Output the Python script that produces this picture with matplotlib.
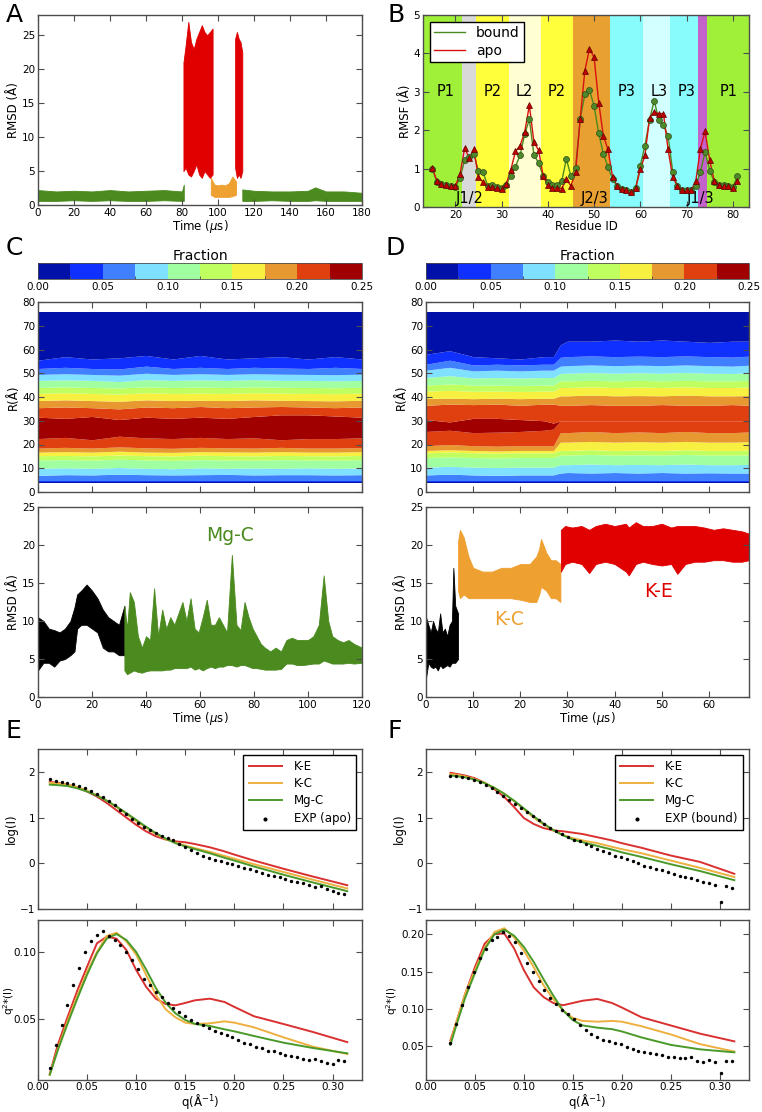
import numpy as np
import matplotlib
matplotlib.use("Agg")
import matplotlib.pyplot as plt
from matplotlib.colors import ListedColormap, BoundaryNorm
from matplotlib.cm import ScalarMappable

# ---------------- data ----------------
# panel A: RMSD envelopes (time in us, low / high in A)
a_green1_t = [0, 10, 20, 30, 40, 50, 60, 70, 80, 81]
a_green1_lo = [0.6, 0.6, 0.7, 0.6, 0.7, 0.6, 0.6, 0.7, 0.6, 0.6]
a_green1_hi = [2.2, 2.0, 2.1, 2.0, 2.2, 2.0, 2.1, 2.2, 2.0, 3.0]
a_red1_t = [80.8, 82, 83.5, 85, 86.5, 88, 89.5, 91, 92.5, 94, 95.5, 97]
a_red1_lo = [5.0, 5.5, 4.5, 4.2, 5.0, 6.0, 4.5, 4.0, 5.0, 4.5, 4.0, 4.5]
a_red1_hi = [21.0, 23.5, 27.0, 24.0, 23.0, 24.5, 25.5, 26.5, 25.5, 25.0, 25.5, 26.0]
a_orange_t = [96, 98, 100, 102, 104, 106, 108, 110]
a_orange_lo = [1.5, 1.2, 1.2, 1.2, 1.2, 1.2, 1.3, 1.5]
a_orange_hi = [4.0, 3.0, 2.9, 3.0, 2.9, 3.2, 4.2, 3.5]
a_red2_t = [109.5, 110.5, 111.5, 112.5, 113.5]
a_red2_lo = [5.5, 4.0, 4.5, 4.0, 5.0]
a_red2_hi = [24.5, 25.5, 24.5, 24.0, 22.5]
a_green2_t = [113.5, 120, 130, 140, 150, 154, 160, 170, 180]
a_green2_lo = [0.6, 0.6, 0.7, 0.6, 0.6, 0.7, 0.6, 0.6, 0.6]
a_green2_hi = [2.3, 2.1, 2.0, 2.0, 2.1, 2.6, 2.0, 2.0, 1.8]

# panel B: RMSF per residue
residues = list(range(15, 82))
rmsf_bound = [1.00, 0.65, 0.60, 0.57, 0.55, 0.52, 0.75, 1.22, 1.30, 1.38, 0.93, 0.90,
              0.55, 0.57, 0.53, 0.50, 0.58, 0.82, 1.05, 1.35, 1.90, 2.28, 1.35, 1.15,
              0.80, 0.65, 0.58, 0.58, 0.67, 1.25, 0.80, 1.02, 2.30, 2.93, 3.05, 2.63,
              1.92, 1.38, 1.05, 0.72, 0.55, 0.48, 0.43, 0.38, 0.50, 1.08, 1.60, 2.27,
              2.77, 2.27, 2.13, 1.85, 0.92, 0.55, 0.45, 0.45, 0.43, 0.55, 0.92, 1.43,
              0.95, 0.65, 0.57, 0.57, 0.55, 0.52, 0.80]
rmsf_apo = [1.02, 0.68, 0.60, 0.58, 0.55, 0.55, 0.85, 1.53, 1.28, 1.50, 0.77, 0.65,
            0.53, 0.52, 0.50, 0.48, 0.60, 0.97, 1.45, 1.60, 1.95, 2.65, 1.68, 1.48,
            0.80, 0.57, 0.50, 0.50, 0.48, 0.72, 0.55, 0.92, 2.30, 3.55, 4.12, 3.90,
            2.72, 1.85, 1.50, 0.78, 0.55, 0.48, 0.43, 0.38, 0.50, 0.98, 1.35, 2.33,
            2.47, 2.43, 2.43, 1.50, 0.78, 0.55, 0.45, 0.45, 0.43, 0.68, 1.52, 1.97,
            1.22, 0.67, 0.57, 0.55, 0.55, 0.50, 0.68]
region_edges = [13, 21.5, 24.5, 31.5, 38.5, 45.5, 53.5, 60.5, 66.5, 72.5, 74.5, 83.5]
region_colors = ['#a0f03a', '#d9d9d9', '#ffff3c', '#ffffd2', '#ffff3c', '#e8a030',
                 '#88fcfc', '#d2ffff', '#88fcfc', '#c462cc', '#a0f03a']
region_names = ['P1', 'P2', 'L2', 'P2', 'P3', 'L3', 'P3', 'P1']
region_name_x = [18, 28, 35, 42, 57, 64, 70, 79]
junction_names = ['J1/2', 'J2/3', 'J1/3']
junction_x = [23, 50, 73]

# colour levels of the R-distribution maps
frac_levels = [0.0, 0.025, 0.05, 0.075, 0.10, 0.125, 0.15, 0.175, 0.20, 0.225, 0.25]
frac_colors = ['#0010a8', '#1030ff', '#4080ff', '#80e0ff', '#a0ffa0',
               '#c0ff60', '#f8f040', '#e89830', '#e04010', '#a00000']
band_level = [0, 1, 2, 3, 4, 5, 6, 7, 8, 9, 8, 7, 6, 5, 4, 3, 2, 1, 0]

# panel C map: boundaries (R in A) of each colour band, bottom to top
c_map_t = [0, 10, 20, 30, 40, 50, 60, 70, 80, 90, 100, 110, 120]
c_edges = [
    [4.0] * 13,
    [4.3] * 13,
    [4.8] * 13,
    [7.0, 7.3, 7.2, 7.5, 7.3, 7.2, 7.3, 7.4, 7.2, 7.3, 7.3, 7.2, 7.3],
    [10.0, 10.2, 10.0, 10.3, 10.0, 9.8, 10.2, 10.0, 10.1, 10.0, 10.2, 10.0, 10.1],
    [13.5, 13.6, 13.4, 13.8, 13.5, 13.3, 13.6, 13.5, 13.4, 13.6, 13.5, 13.4, 13.6],
    [15.3, 15.4, 15.2, 15.6, 15.3, 15.2, 15.5, 15.3, 15.2, 15.4, 15.3, 15.2, 15.4],
    [16.8, 17.0, 16.8, 17.2, 16.8, 16.7, 17.0, 16.9, 16.8, 17.0, 16.8, 16.8, 17.0],
    [18.5, 18.8, 18.5, 19.0, 18.6, 18.4, 18.8, 18.6, 18.5, 18.8, 18.5, 18.5, 18.7],
    [22.5, 23.0, 22.0, 23.5, 22.8, 22.5, 23.0, 22.5, 22.8, 22.0, 22.5, 22.5, 22.8],
    [31.5, 31.0, 31.8, 30.5, 31.5, 31.0, 31.5, 31.0, 31.8, 32.5, 32.5, 32.0, 31.5],
    [35.5, 35.8, 35.5, 35.0, 35.8, 35.5, 36.0, 35.5, 35.8, 36.0, 35.8, 35.5, 35.8],
    [38.5, 38.8, 38.5, 38.2, 38.8, 38.5, 38.6, 38.5, 38.8, 38.6, 38.5, 38.4, 38.6],
    [41.5, 41.8, 41.5, 41.2, 41.8, 41.5, 41.6, 41.5, 41.8, 41.6, 41.5, 41.4, 41.6],
    [44.0, 44.3, 44.0, 43.8, 44.3, 44.0, 44.2, 44.0, 44.3, 44.1, 44.0, 43.9, 44.1],
    [47.0, 47.2, 47.0, 46.5, 47.3, 47.0, 47.2, 47.0, 47.3, 47.0, 47.0, 46.8, 47.0],
    [49.5, 49.8, 49.5, 49.2, 50.0, 49.5, 49.8, 49.5, 49.8, 49.6, 49.5, 49.4, 49.6],
    [52.0, 52.5, 52.0, 51.8, 53.0, 52.0, 52.5, 52.0, 52.5, 52.2, 52.0, 52.5, 52.0],
    [55.5, 57.0, 56.0, 56.5, 57.5, 56.0, 57.5, 56.0, 56.5, 57.0, 56.0, 57.0, 56.0],
    [76.0] * 13,
]

# panel D map
d_map_t = [0, 5, 10, 15, 20, 25, 27, 28.5, 30, 35, 40, 45, 50, 55, 60, 65, 68.5]
d_edges = [
    [4.0] * 17,
    [4.3] * 17,
    [4.8] * 17,
    [7.2, 7.5, 7.2, 7.0, 7.2, 7.2, 7.2, 8.0, 8.2, 8.0, 8.2, 8.0, 8.2, 8.0, 8.1, 8.0, 8.0],
    [10.5, 10.8, 10.5, 10.3, 10.5, 10.5, 10.5, 11.5, 11.5, 11.8, 11.5, 11.6, 11.5, 11.8, 11.5, 11.5, 11.6],
    [14.5, 14.8, 14.5, 14.3, 14.5, 14.5, 14.5, 15.5, 15.5, 15.8, 15.5, 15.6, 15.5, 15.8, 15.5, 15.5, 15.6],
    [16.5, 16.8, 16.5, 16.3, 16.5, 16.5, 16.5, 17.5, 17.5, 17.8, 17.5, 17.6, 17.5, 17.8, 17.5, 17.5, 17.6],
    [17.5, 17.8, 17.5, 17.3, 17.5, 17.5, 17.5, 21.0, 21.0, 21.3, 21.0, 21.2, 21.0, 21.3, 21.0, 21.0, 21.2],
    [19.5, 20.0, 19.5, 19.3, 19.5, 19.5, 19.5, 25.0, 25.0, 25.5, 25.0, 25.3, 25.0, 25.5, 25.0, 25.0, 25.3],
    [25.5, 26.0, 25.0, 25.2, 25.5, 26.0, 26.5, 30.0, 30.0, 30.0, 30.0, 30.0, 30.0, 30.0, 30.0, 30.0, 30.0],
    [30.5, 29.5, 31.0, 31.0, 30.5, 30.0, 29.0, 30.0, 30.0, 30.0, 30.0, 30.0, 30.0, 30.0, 30.0, 30.0, 30.0],
    [36.5, 37.0, 36.8, 37.0, 36.5, 37.0, 37.0, 36.5, 36.5, 36.8, 36.5, 36.5, 36.8, 36.5, 36.5, 36.8, 36.5],
    [39.4, 39.5, 39.3, 39.5, 39.3, 39.5, 39.5, 40.5, 40.5, 40.8, 40.5, 40.6, 40.5, 40.8, 40.5, 40.5, 40.6],
    [42.5, 42.8, 42.4, 42.5, 42.3, 42.5, 42.5, 44.0, 44.0, 44.3, 44.0, 44.2, 44.0, 44.3, 44.0, 44.0, 44.2],
    [45.0, 45.5, 45.0, 45.0, 44.8, 45.0, 45.0, 46.8, 46.8, 47.0, 46.8, 47.0, 46.8, 47.0, 46.8, 46.8, 47.0],
    [48.2, 49.0, 48.0, 48.2, 48.0, 48.2, 48.2, 49.9, 50.0, 50.3, 50.0, 50.2, 50.0, 50.3, 50.0, 49.9, 50.2],
    [51.3, 52.5, 51.0, 51.3, 51.0, 51.3, 51.3, 53.0, 53.2, 53.5, 53.2, 53.4, 53.2, 53.5, 53.2, 53.0, 53.4],
    [53.8, 55.5, 53.5, 53.8, 53.5, 53.8, 53.8, 56.7, 57.0, 57.3, 57.0, 57.2, 57.0, 57.3, 57.0, 56.8, 57.2],
    [58.0, 59.5, 57.0, 56.5, 56.0, 57.0, 57.0, 62.0, 63.5, 63.5, 64.0, 63.5, 64.0, 63.5, 63.0, 63.5, 63.5],
    [76.0] * 17,
]

# panel C RMSD envelopes
c_black_t = [0, 2, 4, 6, 8, 10, 12, 13.5, 14.5, 16, 18, 20, 22, 24, 26, 28, 30, 32]
c_black_lo = [3.5, 4.5, 4.5, 4.0, 4.8, 5.0, 5.5, 6.0, 9.0, 9.5, 9.5, 9.0, 8.5, 6.5, 6.0, 6.0, 5.5, 5.5]
c_black_hi = [10.5, 10.0, 9.0, 8.8, 8.5, 9.0, 10.0, 11.8, 13.5, 14.0, 14.8, 14.0, 13.0, 11.5, 10.5, 10.0, 9.5, 12.0]
c_green_t = [32, 33, 34, 35.5, 37, 38.5, 40, 41.5, 43, 44.5, 46, 47.5, 49, 50.5, 52, 53.5, 55, 56.5,
             58, 59.5, 61, 62.5, 64, 65.5, 67, 68.5, 70, 71.8, 73.5, 75, 76.5, 78, 79.5, 81, 82.5,
             84, 86, 88, 90, 92, 94, 96, 98, 100, 102, 104, 105.8, 107.5, 109, 111, 113, 115, 117, 120]
c_green_lo = [3.5, 3.0, 3.2, 3.5, 3.3, 3.2, 3.4, 3.5, 3.5, 3.5, 3.5, 3.6, 3.6, 3.8, 3.8, 3.8, 3.8, 4.0,
              3.6, 3.8, 3.5, 3.8, 4.0, 3.8, 4.0, 4.0, 4.2, 4.2, 4.0, 4.2, 4.2, 4.0, 3.8, 3.8, 3.7,
              3.6, 3.6, 3.6, 3.7, 4.4, 4.4, 4.2, 4.2, 4.3, 4.4, 4.4, 4.8, 4.6, 4.4, 4.4, 4.4, 4.5, 4.4, 4.5]
c_green_hi = [12.0, 9.0, 13.8, 12.5, 8.0, 6.5, 8.0, 7.5, 14.3, 8.0, 11.5, 9.0, 10.5, 9.5, 11.0, 12.5,
              10.0, 13.0, 9.0, 8.5, 10.5, 12.8, 9.5, 9.5, 10.5, 9.5, 8.5, 18.7, 9.5, 8.8, 12.5, 10.5,
              9.0, 8.0, 7.0, 6.5, 6.0, 6.5, 6.0, 7.5, 7.8, 7.5, 7.5, 7.5, 8.0, 9.5, 16.0, 10.0, 8.0,
              7.5, 7.2, 7.5, 7.0, 6.5]

# panel D RMSD envelopes
d_black_t = [0, 0.5, 1, 1.5, 2, 2.5, 3, 3.5, 4, 4.5, 5, 5.5, 5.8, 6.2, 6.8]
d_black_lo = [2.5, 4.5, 4.0, 3.8, 4.0, 3.5, 4.2, 3.8, 4.0, 4.2, 4.0, 4.5, 4.5, 4.5, 5.0]
d_black_hi = [10.5, 9.5, 8.5, 10.0, 9.0, 8.5, 11.0, 8.5, 9.0, 8.0, 9.5, 10.0, 17.0, 12.0, 11.0]
d_orange_t = [6.8, 7.2, 8, 9, 10, 12, 14, 16, 18, 20, 22, 23.4, 24, 24.4, 25.5, 26.5, 27.5, 28.5]
d_orange_lo = [14.0, 13.0, 13.5, 13.0, 13.0, 13.0, 13.0, 13.0, 13.0, 12.8, 12.5, 12.5, 13.5, 14.5,
               14.0, 13.0, 13.0, 12.5]
d_orange_hi = [20.5, 22.0, 21.0, 18.5, 17.0, 16.5, 16.5, 17.0, 17.0, 17.5, 17.5, 18.5, 19.5, 20.8,
               19.0, 18.0, 18.0, 17.5]
d_red_t = [28.6, 29.5, 31, 33, 34.6, 36, 38, 40, 42.4, 43, 44.5, 46, 48, 50, 52, 53.3, 55, 57, 59,
           61, 63, 65, 67, 68.5]
d_red_lo = [16.5, 17.5, 17.8, 17.5, 16.3, 17.5, 17.8, 17.5, 16.5, 16.0, 17.5, 17.8, 17.5, 17.3,
            17.5, 16.2, 17.5, 17.8, 17.8, 18.0, 18.0, 17.8, 17.8, 18.0]
d_red_hi = [22.0, 22.5, 22.3, 22.5, 22.0, 22.5, 22.8, 22.5, 22.8, 22.3, 23.0, 22.5, 22.5, 22.8,
            22.3, 22.5, 22.5, 22.5, 22.3, 22.0, 22.2, 22.0, 21.8, 21.5]

# panel E: SAXS, apo
e_q = [0.012, 0.02, 0.03, 0.04, 0.05, 0.06, 0.07, 0.08, 0.09, 0.10, 0.11, 0.12, 0.13, 0.14,
       0.15, 0.16, 0.175, 0.19, 0.20, 0.22, 0.25, 0.28, 0.315]
e_log_ke = [1.78, 1.76, 1.72, 1.66, 1.57, 1.46, 1.32, 1.16, 1.00, 0.84, 0.70, 0.59, 0.52, 0.48,
            0.46, 0.42, 0.35, 0.26, 0.19, 0.06, -0.12, -0.29, -0.48]
e_log_kc = [1.76, 1.75, 1.72, 1.67, 1.59, 1.49, 1.37, 1.23, 1.08, 0.92, 0.78, 0.64, 0.53, 0.45,
            0.39, 0.33, 0.25, 0.16, 0.10, -0.02, -0.19, -0.36, -0.55]
e_log_mgc = [1.72, 1.71, 1.69, 1.64, 1.57, 1.48, 1.37, 1.24, 1.10, 0.95, 0.80, 0.66, 0.54, 0.44,
             0.37, 0.31, 0.22, 0.12, 0.06, -0.07, -0.25, -0.42, -0.61]
e_q2_ke = [0.0085, 0.030, 0.051, 0.071, 0.089, 0.1065, 0.1115, 0.110, 0.1015, 0.0865, 0.074,
           0.065, 0.061, 0.060, 0.0618, 0.0638, 0.065, 0.0625, 0.0588, 0.0518, 0.046, 0.040, 0.0324]
e_q2_kc = [0.008, 0.027, 0.048, 0.067, 0.085, 0.100, 0.112, 0.1145, 0.108, 0.098, 0.083, 0.068,
           0.057, 0.051, 0.047, 0.046, 0.0465, 0.048, 0.047, 0.0435, 0.036, 0.029, 0.0235]
e_q2_mgc = [0.008, 0.026, 0.046, 0.065, 0.083, 0.099, 0.110, 0.1135, 0.109, 0.100, 0.087, 0.073,
            0.062, 0.054, 0.049, 0.046, 0.0445, 0.042, 0.0405, 0.037, 0.032, 0.028, 0.024]
e_exp_q = [0.012, 0.018, 0.024, 0.030, 0.036, 0.042, 0.048, 0.054, 0.060, 0.066, 0.072, 0.078,
           0.084, 0.090, 0.096, 0.102, 0.108, 0.114, 0.120, 0.126, 0.132, 0.138, 0.144, 0.150,
           0.156, 0.162, 0.168, 0.174, 0.180, 0.186, 0.192, 0.198, 0.204, 0.210, 0.216, 0.222,
           0.228, 0.234, 0.240, 0.246, 0.252, 0.258, 0.264, 0.270, 0.276, 0.282, 0.288, 0.294,
           0.300, 0.306, 0.312]
e_exp_log = [1.85, 1.80, 1.78, 1.76, 1.73, 1.70, 1.65, 1.59, 1.52, 1.44, 1.36, 1.27, 1.17, 1.07,
             0.97, 0.88, 0.80, 0.73, 0.66, 0.60, 0.55, 0.50, 0.43, 0.36, 0.29, 0.22, 0.16, 0.12,
             0.08, 0.05, 0.01, -0.02, -0.06, -0.10, -0.13, -0.17, -0.21, -0.25, -0.28, -0.31,
             -0.34, -0.38, -0.41, -0.44, -0.47, -0.52, -0.50, -0.57, -0.60, -0.64, -0.68]
e_exp_q2 = [0.013, 0.030, 0.045, 0.060, 0.075, 0.088, 0.100, 0.108, 0.113, 0.116, 0.112, 0.109,
            0.105, 0.100, 0.094, 0.087, 0.080, 0.075, 0.070, 0.066, 0.062, 0.058, 0.055, 0.052,
            0.049, 0.047, 0.045, 0.043, 0.041, 0.039, 0.038, 0.036, 0.034, 0.032, 0.031, 0.029,
            0.028, 0.026, 0.026, 0.024, 0.023, 0.022, 0.021, 0.020, 0.019, 0.020, 0.018, 0.017,
            0.016, 0.019, 0.018]

# panel F: SAXS, bound
f_q = [0.025, 0.03, 0.04, 0.05, 0.06, 0.07, 0.08, 0.09, 0.10, 0.11, 0.12, 0.13, 0.14, 0.15,
       0.16, 0.175, 0.19, 0.20, 0.22, 0.25, 0.28, 0.315]
f_log_ke = [1.98, 1.96, 1.92, 1.86, 1.76, 1.62, 1.45, 1.23, 0.99, 0.86, 0.77, 0.72, 0.70, 0.67,
            0.64, 0.57, 0.50, 0.44, 0.34, 0.17, 0.03, -0.23]
f_log_kc = [1.95, 1.94, 1.90, 1.84, 1.76, 1.65, 1.52, 1.36, 1.18, 1.00, 0.85, 0.72, 0.62, 0.55,
            0.50, 0.44, 0.36, 0.31, 0.22, 0.06, -0.10, -0.30]
f_log_mgc = [1.92, 1.91, 1.88, 1.83, 1.75, 1.65, 1.52, 1.37, 1.20, 1.03, 0.87, 0.73, 0.61, 0.52,
             0.46, 0.38, 0.30, 0.24, 0.14, -0.02, -0.17, -0.37]
f_q2_ke = [0.058, 0.078, 0.120, 0.156, 0.1875, 0.200, 0.201, 0.181, 0.152, 0.129, 0.116, 0.108,
           0.105, 0.108, 0.111, 0.1134, 0.108, 0.102, 0.089, 0.078, 0.067, 0.0567]
f_q2_kc = [0.055, 0.078, 0.120, 0.152, 0.182, 0.203, 0.208, 0.196, 0.178, 0.156, 0.132, 0.113,
           0.098, 0.088, 0.084, 0.083, 0.084, 0.083, 0.077, 0.066, 0.053, 0.043]
f_q2_mgc = [0.052, 0.074, 0.115, 0.148, 0.180, 0.200, 0.206, 0.198, 0.183, 0.163, 0.140, 0.118,
            0.098, 0.085, 0.078, 0.075, 0.073, 0.070, 0.062, 0.052, 0.046, 0.042]
f_exp_q = [0.025, 0.031, 0.037, 0.043, 0.049, 0.055, 0.061, 0.067, 0.073, 0.079, 0.085, 0.091,
           0.097, 0.103, 0.109, 0.115, 0.121, 0.127, 0.133, 0.139, 0.145, 0.151, 0.157, 0.163,
           0.169, 0.175, 0.181, 0.187, 0.193, 0.199, 0.205, 0.211, 0.217, 0.223, 0.229, 0.235,
           0.241, 0.247, 0.253, 0.259, 0.265, 0.271, 0.277, 0.283, 0.289, 0.295, 0.301, 0.307, 0.313]
f_exp_log = [1.92, 1.91, 1.89, 1.86, 1.82, 1.77, 1.71, 1.64, 1.56, 1.48, 1.39, 1.30, 1.21, 1.12,
             1.03, 0.94, 0.86, 0.78, 0.71, 0.64, 0.58, 0.52, 0.48, 0.42, 0.38, 0.32, 0.27, 0.22,
             0.17, 0.14, 0.09, 0.05, 0.01, -0.05, -0.08, -0.12, -0.15, -0.18, -0.23, -0.27,
             -0.30, -0.33, -0.36, -0.40, -0.44, -0.47, -0.85, -0.50, -0.54]
f_exp_q2 = [0.055, 0.080, 0.105, 0.130, 0.150, 0.168, 0.180, 0.192, 0.196, 0.203, 0.198, 0.190,
            0.175, 0.162, 0.150, 0.138, 0.125, 0.115, 0.107, 0.099, 0.093, 0.086, 0.078, 0.072,
            0.066, 0.063, 0.059, 0.057, 0.054, 0.053, 0.049, 0.047, 0.044, 0.043, 0.041, 0.040,
            0.039, 0.036, 0.036, 0.035, 0.034, 0.036, 0.031, 0.029, 0.032, 0.029, 0.015, 0.030, 0.030]

# ---------------- styling ----------------
GREEN = '#4a8a1e'
RED = '#e00000'
ORANGE = '#eea030'
LRED = '#d93030'
LORANGE = '#eeb040'
LGREEN = '#4a9a2a'

plt.rcParams.update({
    'font.family': 'DejaVu Sans',
    'font.size': 7.5,
    'axes.linewidth': 1.0,
    'axes.edgecolor': '0.3',
    'xtick.direction': 'in',
    'ytick.direction': 'in',
    'xtick.top': True,
    'ytick.right': True,
    'xtick.major.size': 4,
    'ytick.major.size': 4,
    'xtick.color': '0.3',
    'ytick.color': '0.3',
    'xtick.labelcolor': 'black',
    'ytick.labelcolor': 'black',
    'axes.labelsize': 8.5,
    'axes.labelpad': 1.5,
    'xtick.major.pad': 2,
    'ytick.major.pad': 2,
})

W, H = 762, 1112
fig = plt.figure(figsize=(W / 100, H / 100), dpi=100)


def box(x0, y0, x1, y1):
    # pixel box (top-left origin) -> figure axes rect
    return [x0 / W, 1 - y1 / H, (x1 - x0) / W, (y1 - y0) / H]


def band(ax, t, lo, hi, color):
    ax.fill_between(t, lo, hi, color=color, lw=0.6, edgecolor=color)


# ---------------- panel A ----------------
ax = fig.add_axes(box(38, 15, 362, 205))
band(ax, a_green1_t, a_green1_lo, a_green1_hi, GREEN)
band(ax, a_red1_t, a_red1_lo, a_red1_hi, RED)
band(ax, a_orange_t, a_orange_lo, a_orange_hi, ORANGE)
band(ax, a_red2_t, a_red2_lo, a_red2_hi, RED)
band(ax, a_green2_t, a_green2_lo, a_green2_hi, GREEN)
ax.set_xlim(0, 180)
ax.set_ylim(0, 28)
ax.set_xticks(range(0, 181, 20))
ax.set_yticks(range(0, 26, 5))
ax.set_xlabel(r'Time ($\mu$s)', labelpad=0)
ax.set_ylabel('RMSD (Å)')

# ---------------- panel B ----------------
ax = fig.add_axes(box(423, 15, 749, 207))
for i, c in enumerate(region_colors):
    ax.axvspan(region_edges[i], region_edges[i + 1], color=c, lw=0, zorder=0)
for name, x in zip(region_names, region_name_x):
    ax.text(x, 3.0, name, ha='center', va='center', fontsize=10.5)
for name, x in zip(junction_names, junction_x):
    ax.text(x, 0.22, name, ha='center', va='center', fontsize=10.5)
ax.plot(residues, rmsf_bound, color=GREEN, lw=1.0, label='bound', zorder=3)
ax.plot(residues, rmsf_apo, color='#d81010', lw=1.0, label='apo', zorder=3)
ax.plot(residues, rmsf_bound, 'o', color='#4e8a2a', mec='#2c4a18', mew=0.5, ms=4.3, zorder=4)
ax.plot(residues, rmsf_apo, '^', color='#c00000', mec='#600000', mew=0.5, ms=4.3, zorder=5)
ax.set_xlim(13, 83.5)
ax.set_ylim(0, 5)
ax.set_xticks(range(20, 81, 10))
ax.set_yticks(range(0, 6))
ax.set_xlabel('Residue ID', labelpad=0)
ax.set_ylabel('RMSF (Å)')
leg = ax.legend(loc='upper left', fontsize=10, fancybox=False, framealpha=1,
                edgecolor='black', handlelength=2.2, borderpad=0.3, labelspacing=0.3)
leg.get_frame().set_linewidth(1.0)

# ---------------- panels C and D ----------------
cmap = ListedColormap(frac_colors)
norm = BoundaryNorm(frac_levels, cmap.N)


def rdist_panel(x0, x1, tgrid, edges, xmax, xticks):
    cax = fig.add_axes(box(x0, 263, x1, 279))
    cb = fig.colorbar(ScalarMappable(norm=norm, cmap=cmap), cax=cax, orientation='horizontal',
                      ticks=[0, 0.05, 0.10, 0.15, 0.20, 0.25])
    cb.ax.set_xticklabels(['0.00', '0.05', '0.10', '0.15', '0.20', '0.25'])
    cb.ax.tick_params(length=0, labelsize=7.5, pad=2)
    cb.outline.set_linewidth(0.6)
    cb.ax.set_title('Fraction', fontsize=10, pad=2)

    hax = fig.add_axes(box(x0, 302, x1, 492))
    for i, lev in enumerate(band_level):
        hax.fill_between(tgrid, edges[i], edges[i + 1], color=frac_colors[lev], lw=0)
    hax.set_xlim(0, xmax)
    hax.set_ylim(0, 80)
    hax.set_xticks(xticks)
    hax.set_xticklabels([])
    hax.set_yticks(range(0, 81, 10))
    hax.set_ylabel('R(Å)')
    return hax


rdist_panel(38, 362, c_map_t, c_edges, 120, range(0, 121, 20))
rdist_panel(426, 749, d_map_t, d_edges, 68.5, range(0, 61, 10))

# C RMSD
ax = fig.add_axes(box(38, 507, 362, 697))
band(ax, c_black_t, c_black_lo, c_black_hi, 'black')
band(ax, c_green_t, c_green_lo, c_green_hi, GREEN)
ax.text(71, 21.2, 'Mg-C', color=GREEN, fontsize=13.5, ha='center', va='center')
ax.set_xlim(0, 120)
ax.set_ylim(0, 25)
ax.set_xticks(range(0, 121, 20))
ax.set_yticks(range(0, 26, 5))
ax.set_xlabel(r'Time ($\mu$s)', labelpad=0)
ax.set_ylabel('RMSD (Å)')

# D RMSD
ax = fig.add_axes(box(426, 507, 749, 697))
band(ax, d_black_t, d_black_lo, d_black_hi, 'black')
band(ax, d_orange_t, d_orange_lo, d_orange_hi, ORANGE)
band(ax, d_red_t, d_red_lo, d_red_hi, RED)
ax.text(17.7, 10.2, 'K-C', color=ORANGE, fontsize=13.5, ha='center', va='center')
ax.text(49.3, 13.9, 'K-E', color=RED, fontsize=13.5, ha='center', va='center')
ax.set_xlim(0, 68.5)
ax.set_ylim(0, 25)
ax.set_xticks(range(0, 61, 10))
ax.set_yticks(range(0, 26, 5))
ax.set_xlabel(r'Time ($\mu$s)', labelpad=0)
ax.set_ylabel('RMSD (Å)')


# ---------------- panels E and F ----------------
def saxs_panel(x0, x1, q, logs, q2s, eq, elog, eq2, exp_label, q2_ylim, q2_ticks, ylab_gap):
    width = x1 - x0
    lax = fig.add_axes(box(x0, 749, x1, 909))
    for y, c, lab in zip(logs, [LRED, LORANGE, LGREEN], ['K-E', 'K-C', 'Mg-C']):
        lax.plot(q, y, color=c, lw=1.4, label=lab)
    lax.scatter(eq, elog, s=6, color='black', lw=0, label=exp_label, zorder=3)
    lax.set_xlim(0, 0.33)
    lax.set_ylim(-1, 2.5)
    lax.set_yticks([-1, 0, 1, 2])
    lax.set_xticks(np.arange(0, 0.31, 0.05))
    lax.set_xticklabels([])
    lax.set_ylabel('log(I)')
    leg = lax.legend(loc='upper right', fontsize=8.5, fancybox=False, framealpha=1,
                     edgecolor='black', scatterpoints=1, handlelength=2.8,
                     handletextpad=1.0, borderpad=0.45, labelspacing=0.35, markerscale=1.2)
    leg.get_frame().set_linewidth(1.0)

    qax = fig.add_axes(box(x0, 920, x1, 1080))
    for y, c in zip(q2s, [LRED, LORANGE, LGREEN]):
        qax.plot(q, y, color=c, lw=1.4)
    qax.scatter(eq, eq2, s=6, color='black', lw=0, zorder=3)
    qax.set_xlim(0, 0.33)
    qax.set_ylim(*q2_ylim)
    qax.set_yticks(q2_ticks)
    qax.set_xticks(np.arange(0, 0.31, 0.05))
    qax.set_xticklabels(['%.2f' % v for v in np.arange(0, 0.31, 0.05)])
    qax.tick_params(axis='x', pad=1.5)
    qax.tick_params(axis='y', pad=1.5)
    qax.set_xlabel(r'q(Å$^{-1}$)', labelpad=0, fontsize=8.5)
    qax.set_ylabel(r'q$^2$*(I)', fontsize=7.5)
    # y label sits a fixed number of pixels left of the axes
    qax.yaxis.set_label_coords(-ylab_gap / width, 0.5)


saxs_panel(38, 362, e_q, [e_log_ke, e_log_kc, e_log_mgc], [e_q2_ke, e_q2_kc, e_q2_mgc],
           e_exp_q, e_exp_log, e_exp_q2, 'EXP (apo)', (0.004, 0.124), [0.05, 0.10], 21)
saxs_panel(426, 749, f_q, [f_log_ke, f_log_kc, f_log_mgc], [f_q2_ke, f_q2_kc, f_q2_mgc],
           f_exp_q, f_exp_log, f_exp_q2, 'EXP (bound)', (0.005, 0.219),
           [0.05, 0.10, 0.15, 0.20], 26)

# ---------------- panel letters ----------------
for lab, x, y in [('A', 6, 3), ('B', 388, 3), ('C', 6, 236), ('D', 385, 236),
                  ('E', 6, 719), ('F', 388, 719)]:
    fig.text(x / W, 1 - y / H, lab, fontsize=18, va='top', ha='left')

fig.savefig('out.png', dpi=100)
